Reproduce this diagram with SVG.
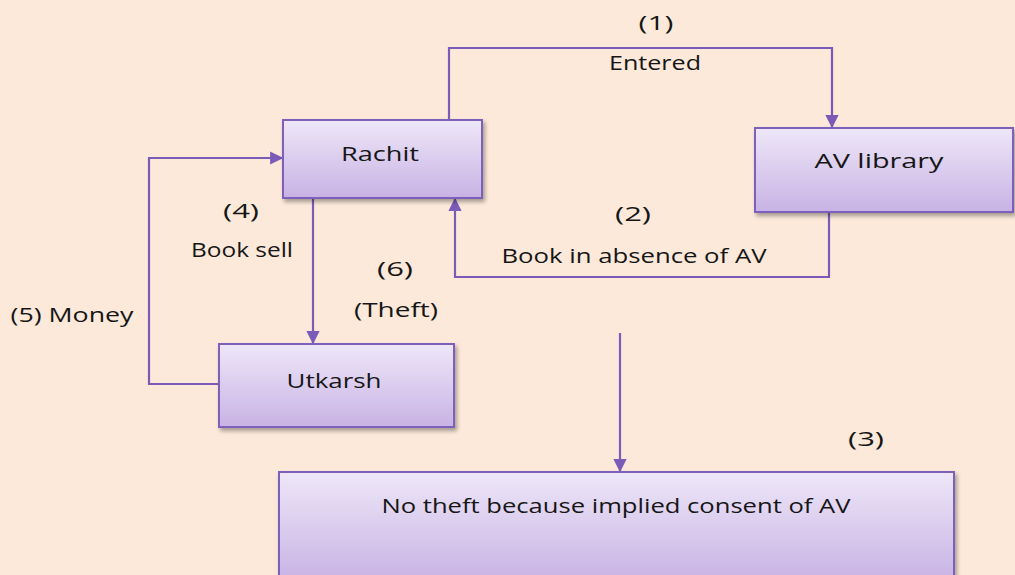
<svg xmlns="http://www.w3.org/2000/svg" width="1015" height="575" viewBox="0 0 1015 575">
  <defs>
    <linearGradient id="boxFill" x1="0" y1="0" x2="0" y2="1">
      <stop offset="0" stop-color="#EEE7F8"/>
      <stop offset="1" stop-color="#C8B2E4"/>
    </linearGradient>
    <filter id="shadow" x="-10%" y="-10%" width="125%" height="130%">
      <feGaussianBlur in="SourceAlpha" stdDeviation="2"/>
      <feOffset dx="2" dy="3" result="b"/>
      <feComponentTransfer><feFuncA type="linear" slope="0.35"/></feComponentTransfer>
      <feMerge><feMergeNode/><feMergeNode in="SourceGraphic"/></feMerge>
    </filter>
    <marker id="arrow" viewBox="0 0 10 10" refX="9" refY="5" markerWidth="6" markerHeight="6" orient="auto" markerUnits="strokeWidth">
      <path d="M0,0 L10,5 L0,10 z" fill="#7A5CB8"/>
    </marker>
  </defs>
  <style>
    .box { fill: url(#boxFill); stroke: #7D60BC; stroke-width: 2; filter: url(#shadow); }
    .edge { fill: none; stroke: #7A5CB8; stroke-width: 2.2; marker-end: url(#arrow); }
    text { font-family: "Open Sans", "Noto Sans", "DejaVu Sans", sans-serif; font-size: 20px; fill: #161616; text-anchor: middle; dominant-baseline: central; }
  </style>

  <rect width="1015" height="575" fill="#FCE9DA"/>

  <!-- connectors -->
  <g id="connectors">
    <path class="edge" d="M449,120 V48 H832 V127"/>
    <path class="edge" d="M829,212 V277 H455 V199"/>
    <path class="edge" d="M313,198 V343"/>
    <path class="edge" d="M219,384 H149 V158 H282"/>
    <path class="edge" d="M620,333 V471"/>
  </g>

  <!-- connector labels -->
  <g id="labels">
    <text x="656" y="22" textLength="35" lengthAdjust="spacingAndGlyphs">(1)</text>
    <text x="655" y="62" textLength="92" lengthAdjust="spacingAndGlyphs">Entered</text>
    <text x="633" y="213" textLength="36" lengthAdjust="spacingAndGlyphs">(2)</text>
    <text x="634" y="255" textLength="265" lengthAdjust="spacingAndGlyphs">Book in absence of AV</text>
    <text x="241" y="210" textLength="36" lengthAdjust="spacingAndGlyphs">(4)</text>
    <text x="242" y="249" textLength="102" lengthAdjust="spacingAndGlyphs">Book sell</text>
    <text x="395" y="268" textLength="36" lengthAdjust="spacingAndGlyphs">(6)</text>
    <text x="396" y="309" textLength="84" lengthAdjust="spacingAndGlyphs">(Theft)</text>
    <text x="72" y="314" textLength="123" lengthAdjust="spacingAndGlyphs">(5) Money</text>
    <text x="866" y="438" textLength="36" lengthAdjust="spacingAndGlyphs">(3)</text>
  </g>

  <!-- nodes -->
  <g id="rachit">
    <rect class="box" x="283" y="120" width="199" height="78"/>
    <text x="380" y="153" textLength="78" lengthAdjust="spacingAndGlyphs">Rachit</text>
  </g>
  <g id="av-library">
    <rect class="box" x="755" y="128" width="258" height="84"/>
    <text x="879" y="160" textLength="129" lengthAdjust="spacingAndGlyphs">AV library</text>
  </g>
  <g id="utkarsh">
    <rect class="box" x="219" y="344" width="235" height="83"/>
    <text x="334" y="380" textLength="95" lengthAdjust="spacingAndGlyphs">Utkarsh</text>
  </g>
  <g id="no-theft">
    <rect class="box" x="279" y="472" width="675" height="110"/>
    <text x="616" y="505" textLength="469" lengthAdjust="spacingAndGlyphs">No theft because implied consent of AV</text>
  </g>
</svg>
